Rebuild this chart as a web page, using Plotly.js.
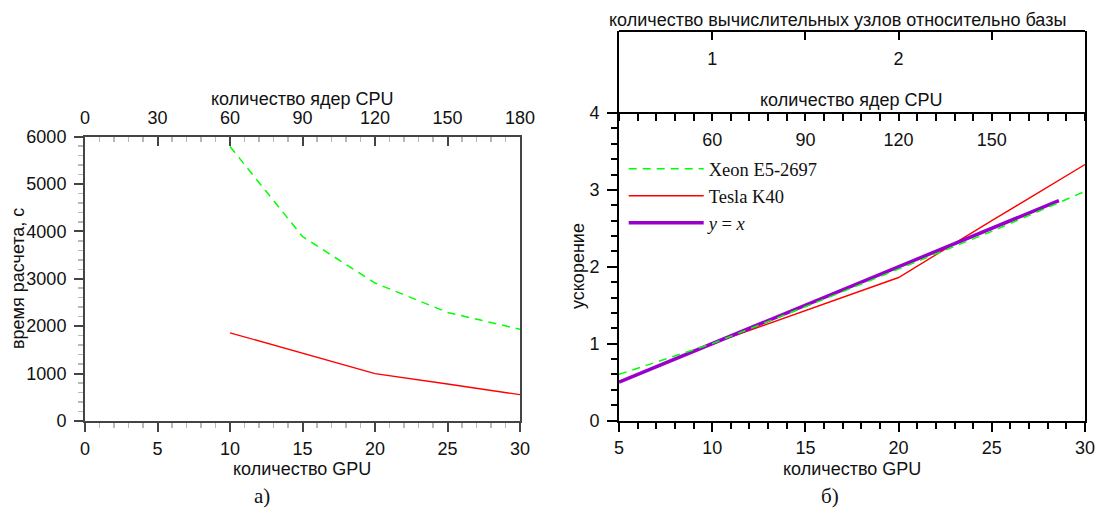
<!DOCTYPE html>
<html><head><meta charset="utf-8">
<script src="https://cdn.plot.ly/plotly-3.0.1.min.js"></script>
<style>body{margin:0;background:#fff}</style>
</head><body><div id="chart" style="width:1100px;height:511px"></div>
<script>
// ---- data ----
const gpuTime = [10, 15, 20, 25, 30];
const cpuTime = [60, 90, 120, 150, 180];
const xeonTime = [5790, 3890, 2910, 2290, 1935];
const teslaTime = [1860, 1430, 1000, 780, 555];

const cpuSpeed = [30, 60, 90, 120, 150, 180];
const xeonSpeed = [0.6, 1.0, 1.48, 1.97, 2.46, 2.98];
const gpuSpeedTesla = [10, 15, 20, 25, 30];
const teslaSpeed = [1.0, 1.43, 1.86, 2.6, 3.33];
const idealX = [5, 28.6];
const idealY = [0.5, 2.86];

const nodeTickVals = [1, 1.5, 2, 2.5];
const nodeTickText = ['1', '', '2', ''];
const nodeRange = [0.5, 3.0];

const legendNames = ['Xeon E5-2697', 'Tesla K40', '<i>y</i> = <i>x</i>'];
const titles = {
  cpuCores: 'количество ядер CPU',
  gpus: 'количество GPU',
  time: 'время расчета, с',
  speedup: 'ускорение',
  nodes: 'количество вычислительных узлов относительно базы',
  panelA: 'а)',
  panelB: 'б)'
};

// ---- styles ----
const sans = 'Liberation Sans, Arial, sans-serif';
const serif = 'Liberation Serif, Times New Roman, serif';
function tf() { return {family: sans, size: 18, color: '#111'}; }
const GREEN = '#00ff00', RED = '#ff0000', PURPLE = '#9900cc';
const LGRAY = '#444', LMINOR = '#b8b8b8';

const traces = [
  {x: cpuTime, y: xeonTime, xaxis: 'x2', yaxis: 'y', mode: 'lines', showlegend: false,
   line: {color: GREEN, width: 1.5, dash: '8px,6px'}},
  {x: gpuTime, y: teslaTime, xaxis: 'x', yaxis: 'y', mode: 'lines', showlegend: false,
   line: {color: RED, width: 1.4}},
  {x: cpuSpeed, y: xeonSpeed, xaxis: 'x4', yaxis: 'y2', mode: 'lines', name: legendNames[0],
   line: {color: GREEN, width: 1.5, dash: '8px,6px'}},
  {x: gpuSpeedTesla, y: teslaSpeed, xaxis: 'x3', yaxis: 'y2', mode: 'lines', name: legendNames[1],
   line: {color: RED, width: 1.4}},
  {x: idealX, y: idealY, xaxis: 'x3', yaxis: 'y2', mode: 'lines', name: legendNames[2],
   line: {color: PURPLE, width: 3.5}},
  // invisible helper so the upper (nodes) box gets drawn
  {x: nodeRange, y: [0.5, 0.5], xaxis: 'x5', yaxis: 'y3', mode: 'lines', showlegend: false,
   hoverinfo: 'skip', line: {color: 'rgba(0,0,0,0)', width: 0}}
];

const xL = [85/1100, 520/1100];
const yL = [1 - 421/511, 1 - 136.5/511];
const xR = [619/1100, 1085/1100];
const yR = [1 - 420.5/511, 1 - 113/511];
const yU = [1 - 113/511, 1 - 30.5/511];

function ax(o) { return Object.assign({showgrid: false, zeroline: false, automargin: false, tickfont: tf()}, o); }
function px(x) { return x / 1100; }
function py(y) { return 1 - y / 511; }
function note(text, x, y, opts) {
  return Object.assign({text: text, x: px(x), y: py(y), xref: 'paper', yref: 'paper', showarrow: false,
    xanchor: 'center', yanchor: 'middle', font: {family: sans, size: 18, color: '#111'}}, opts || {});
}

const layout = {
  width: 1100, height: 511,
  margin: {l: 0, r: 0, t: 0, b: 0},
  font: {family: sans, size: 18, color: '#111'},
  paper_bgcolor: '#fff', plot_bgcolor: '#fff',
  showlegend: true,
  legend: {x: 0.567, y: 0.706, xanchor: 'left', yanchor: 'top', bgcolor: 'rgba(0,0,0,0)',
           font: {family: serif, size: 18.5, color: '#111'}, tracegroupgap: 0, itemwidth: 75},
  xaxis: ax({domain: xL, anchor: 'y', range: [0, 30], side: 'bottom',
    tickvals: [0,5,10,15,20,25,30], ticks: 'outside', ticklen: 9, tickwidth: 2, tickcolor: LGRAY,
    showline: true, linecolor: LGRAY, linewidth: 2, ticklabelstandoff: 1,
    minor: {dtick: 1, ticks: 'outside', ticklen: 5, tickwidth: 1.5, tickcolor: LMINOR}}),
  xaxis2: ax({domain: xL, anchor: 'y', overlaying: 'x', range: [0, 180], side: 'top',
    tickvals: [0,30,60,90,120,150,180], ticks: 'inside', ticklen: 9, tickwidth: 2, tickcolor: LGRAY,
    showline: true, linecolor: LGRAY, linewidth: 2, ticklabelstandoff: 3,
    minor: {dtick: 6, ticks: 'inside', ticklen: 5, tickwidth: 1.5, tickcolor: LMINOR}}),
  yaxis: ax({domain: yL, anchor: 'x', range: [0, 6000],
    tickvals: [0,1000,2000,3000,4000,5000,6000], ticks: 'outside', ticklen: 9, tickwidth: 2, tickcolor: LGRAY,
    showline: true, linecolor: LGRAY, linewidth: 2, mirror: true, ticklabelstandoff: 4,
    minor: {dtick: 200, ticks: 'outside', ticklen: 5, tickwidth: 1.5, tickcolor: LMINOR}}),

  xaxis3: ax({domain: xR, anchor: 'y2', range: [5, 30], side: 'bottom',
    tickvals: [5,10,15,20,25,30], ticks: 'outside', ticklen: 9, tickwidth: 2, tickcolor: '#000',
    showline: true, linecolor: '#000', linewidth: 2, ticklabelstandoff: 1,
    minor: {dtick: 1, ticks: 'outside', ticklen: 6, tickwidth: 2, tickcolor: '#000'}}),
  xaxis4: ax({domain: xR, anchor: 'free', position: py(113), overlaying: 'x3', range: [30, 180], side: 'bottom',
    tickvals: [60,90,120,150], ticks: 'outside', ticklen: 7, tickwidth: 2, tickcolor: '#000',
    ticklabelstandoff: 3,
    showline: true, linecolor: '#000', linewidth: 2,
    minor: {dtick: 6, ticks: 'outside', ticklen: 7, tickwidth: 2, tickcolor: '#000'}}),
  yaxis2: ax({domain: yR, anchor: 'x3', range: [0, 4],
    tickvals: [0,1,2,3,4], ticks: 'outside', ticklen: 10, tickwidth: 2, tickcolor: '#000',
    showline: true, linecolor: '#000', linewidth: 2, mirror: true, ticklabelstandoff: 4,
    minor: {dtick: 0.2, ticks: 'outside', ticklen: 6, tickwidth: 2, tickcolor: '#000'}}),

  xaxis5: ax({domain: xR, anchor: 'free', position: py(30.5), range: nodeRange, side: 'bottom',
    tickvals: nodeTickVals, ticktext: nodeTickText, ticks: 'outside', ticklen: 8, tickwidth: 2, tickcolor: '#000',
    ticklabelstandoff: 4, showline: true, linecolor: '#000', linewidth: 2}),
  yaxis3: ax({domain: yU, anchor: 'x5', range: [0, 1],
    showticklabels: false, ticks: '', showline: true, linecolor: '#000', linewidth: 2, mirror: true}),

  annotations: [
    note(titles.cpuCores, 302, 99),
    note(titles.gpus, 302, 469),
    note(titles.time, 18, 279, {textangle: -90}),
    note(titles.nodes, 837, 20),
    note(titles.cpuCores, 851, 100),
    note(titles.gpus, 852, 469),
    note(titles.speedup, 578, 266, {textangle: -90}),
    note(titles.panelA, 262, 496, {font: {family: serif, size: 21, color: '#111'}}),
    note(titles.panelB, 830, 496, {font: {family: serif, size: 21, color: '#111'}})
  ]
};

Plotly.newPlot('chart', traces, layout, {displayModeBar: false, staticPlot: true});
</script>
</body></html>
